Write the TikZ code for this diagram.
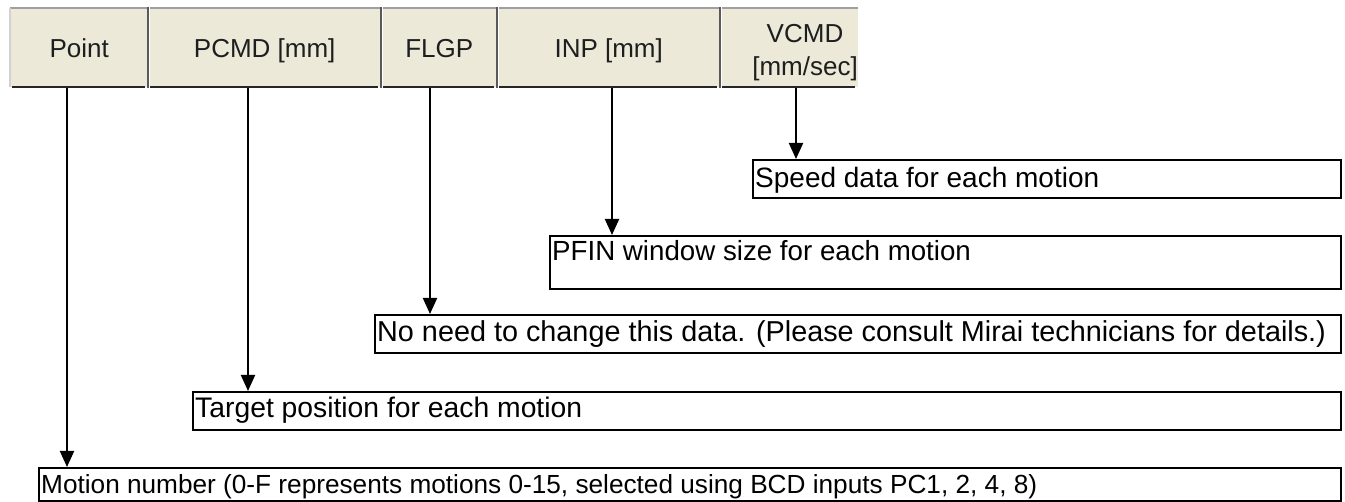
\documentclass[tikz,border=0pt]{standalone}
\usepackage{fontspec}
\setmainfont{Liberation Sans}
\usetikzlibrary{arrows.meta}
\definecolor{hdrface}{HTML}{ECE9D8}
\definecolor{hdrtext}{HTML}{1E1E1E}
\begin{document}
\begin{tikzpicture}[x=1pt,y=-1pt,
  hcell/.style={fill=hdrface, draw=none, inner sep=0, anchor=north west, minimum height=79,
    font=\fontsize{26}{32}\selectfont, text=hdrtext, text height=19, text depth=0},
  htext/.style={inner sep=0, anchor=base, font=\fontsize{26}{32}\selectfont, text=hdrtext},
  ibox/.style={draw=black, line width=2pt, inner sep=0, anchor=north west},
  itext/.style={inner sep=0, anchor=base west, font=\fontsize{28}{34}\selectfont},
  arr/.style={line width=2pt, -{Triangle[width=14pt,length=16pt]}},
  divider/.style={black!65, line width=1.5pt},
  hbottom/.style={black!85, line width=2pt}]
\useasboundingbox (0,0) rectangle (1345,502);

% header cells
\node[hcell, minimum width=138] (h1) at (10,8) {Point};
\node[hcell, minimum width=233] (h2) at (148,8) {PCMD [mm]};
\node[hcell, minimum width=116] (h3) at (381,8) {FLGP};
\node[hcell, minimum width=223] (h4) at (497,8) {INP [mm]};
\node[hcell, minimum width=138] (h5) at (720,8) {};
\node[htext] (v1) at (805,43) {VCMD};
\node[htext] (v2) at (805,76) {[mm/sec]};

% header borders
\draw[gray!75, line width=2pt] (h1.north west) -- (h5.north east);
\draw[gray!35, line width=1.5pt] (h1.north west) -- (h1.south west);
\foreach \c in {h2,h3,h4,h5}{
  \draw[divider] ([yshift=1pt]\c.north west) -- ([yshift=-1pt]\c.south west);
  \draw[white, line width=1pt] ([xshift=1.6pt,yshift=1pt]\c.north west) -- ([xshift=1.6pt,yshift=-1pt]\c.south west);
}
\foreach \c in {h1,h2,h3,h4,h5}{
  \draw[hbottom] ([xshift=2pt]\c.south west) -- ([xshift=-3pt]\c.south east);
}

% description boxes
\node[ibox, minimum width=588, minimum height=38] (b1) at (752,159) {};
\node[itext] (t1) at (755,188) {Speed data for each motion};
\node[ibox, minimum width=791, minimum height=53] (b2) at (549,235) {};
\node[itext, font=\fontsize{27.7}{34}\selectfont] (t2) at (552,261) {PFIN window size for each motion};
\node[ibox, minimum width=966, minimum height=38] (b3) at (374,314) {};
\node[itext, font=\fontsize{28.8}{34}\selectfont] (t3) at (377,342) {No need to change this data. (Please consult Mirai technicians for details.)};
\node[ibox, minimum width=1148, minimum height=38] (b4) at (192,391) {};
\node[itext, font=\fontsize{28.3}{34}\selectfont] (t4) at (195,418) {Target position for each motion};
\node[ibox, minimum width=1302, minimum height=33] (b5) at (38,467) {};
\node[itext, font=\fontsize{26.2}{32}\selectfont] (t5) at (41,494) {Motion number (0-F represents motions 0-15, selected using BCD inputs PC1, 2, 4, 8)};

% arrows
\coordinate (a5) at (796,88);
\coordinate (a4) at (612,88);
\coordinate (a3) at (430,88);
\coordinate (a2) at (248,88);
\coordinate (a1) at (67,88);
\draw[arr] (a5) -- (a5 |- b1.north);
\draw[arr] (a4) -- (a4 |- b2.north);
\draw[arr] (a3) -- (a3 |- b3.north);
\draw[arr] (a2) -- (a2 |- b4.north);
\draw[arr] (a1) -- (a1 |- b5.north);
\end{tikzpicture}
\end{document}
